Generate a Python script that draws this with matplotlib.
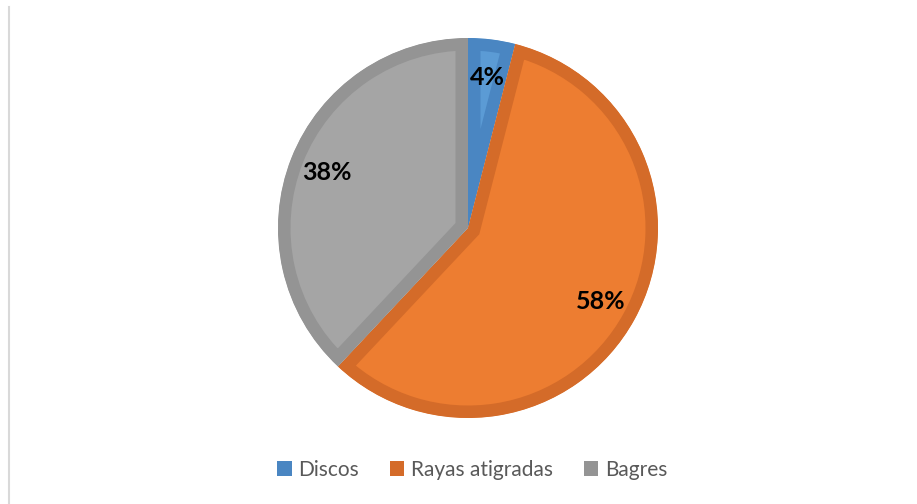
import matplotlib
matplotlib.use("Agg")
import matplotlib.pyplot as plt
from matplotlib.lines import Line2D
from matplotlib.patches import Patch

# datos
categorias = ["Discos", "Rayas atigradas", "Bagres"]
porcentajes = [4, 58, 38]
colores = ["#5B9BD5", "#ED7D31", "#A5A5A5"]
bordes = ["#4A86C2", "#D46B29", "#949494"]

plt.rcParams["font.family"] = ["Lato", "DejaVu Sans"]

W, H = 917, 504
fig = plt.figure(figsize=(W / 100, H / 100), dpi=100)
fig.patch.set_facecolor("white")

# eje del pastel: centro (468, 228), radio 190 px
cx, cy, r = 468, 228, 190
ax = fig.add_axes([(cx - r) / W, (H - cy - r) / H, 2 * r / W, 2 * r / H])

wedges, textos, autotextos = ax.pie(
    porcentajes, colors=colores, startangle=90, counterclock=False,
    autopct="%.0f%%", pctdistance=0.8,
    wedgeprops=dict(linewidth=0),
    textprops=dict(fontsize=18, fontweight="bold", color="black"))

# borde interior mas oscuro (efecto bisel)
for w, c in zip(wedges, bordes):
    w.set_edgecolor(c)
    w.set_linewidth(18)
    w.set_clip_on(True)
    w.set_clip_path(w)

ax.set_xlim(-1, 1)
ax.set_ylim(-1, 1)
ax.set_aspect("equal")
ax.axis("off")

# leyenda
handles = [Patch(facecolor=c, edgecolor="none") for c in bordes]
fig.legend(handles, categorias, loc="center", ncol=3,
           bbox_to_anchor=(472 / W, 1 - 470 / H), frameon=False,
           fontsize=15, labelcolor="#595959", handlelength=0.7,
           handleheight=0.7, handletextpad=0.3, columnspacing=1.5)

# linea vertical a la izquierda
fig.add_artist(Line2D([8.5 / W, 8.5 / W], [0, 1 - 7 / H],
                      transform=fig.transFigure, color="#D9D9D9", linewidth=1.5))

fig.savefig("out.png", dpi=100)
plt.close()
